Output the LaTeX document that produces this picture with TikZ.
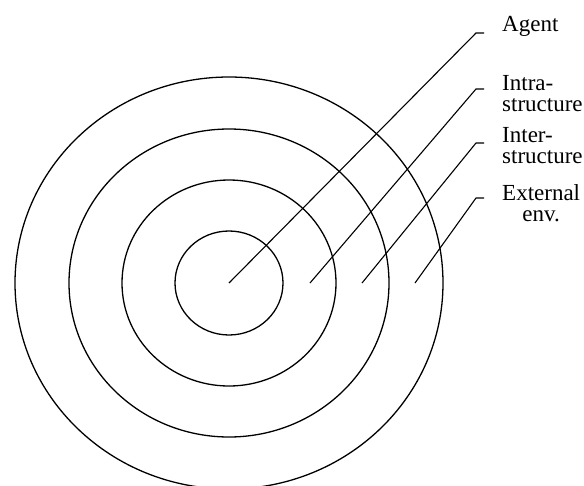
\documentclass[tikz,border=0pt]{standalone}
\usepackage{fontspec}
\setmainfont{Liberation Serif}

\begin{document}
\begin{tikzpicture}[
    x=1pt, y=-1pt,
    ring/.style={draw, line width=1.3pt},
    leader/.style={draw, line width=1.1pt},
    label/.style={inner sep=0pt, anchor=north west, align=left, font=\fontsize{23}{21.5}\selectfont}
]
\useasboundingbox (0,0) rectangle (584,485);

% Rings
\coordinate (centre) at (229,283);
\draw[ring] (centre) ellipse [x radius=54pt, y radius=52pt];
\draw[ring] (centre) ellipse [x radius=107pt, y radius=103pt];
\draw[ring] (centre) ellipse [x radius=160pt, y radius=154pt];
\draw[ring] (centre) ellipse [x radius=214pt, y radius=206pt];

% Labels
\node[label] (agent) at (502,16) {Agent};
\node[label] (intra) at (502,75) {Intra-\\structure};
\node[label] (inter) at (502,127) {Inter-\\structure};
\node[label, align=center] (external) at (502,184) {External\\env.};

% Leader points
\coordinate (agent_pt) at (229,283);
\coordinate (intra_pt) at (310,283);
\coordinate (inter_pt) at (362,283);
\coordinate (external_pt) at (415,283);

\coordinate (agent_bend) at (476,33);
\coordinate (intra_bend) at (476,89);
\coordinate (inter_bend) at (476,143);
\coordinate (external_bend) at (476,198);

% Leader lines
\draw[leader] (agent_pt) -- (agent_bend) -- ++(8,0);
\draw[leader] (intra_pt) -- (intra_bend) -- ++(8,0);
\draw[leader] (inter_pt) -- (inter_bend) -- ++(8,0);
\draw[leader] (external_pt) -- (external_bend) -- ++(8,0);

\end{tikzpicture}
\end{document}
